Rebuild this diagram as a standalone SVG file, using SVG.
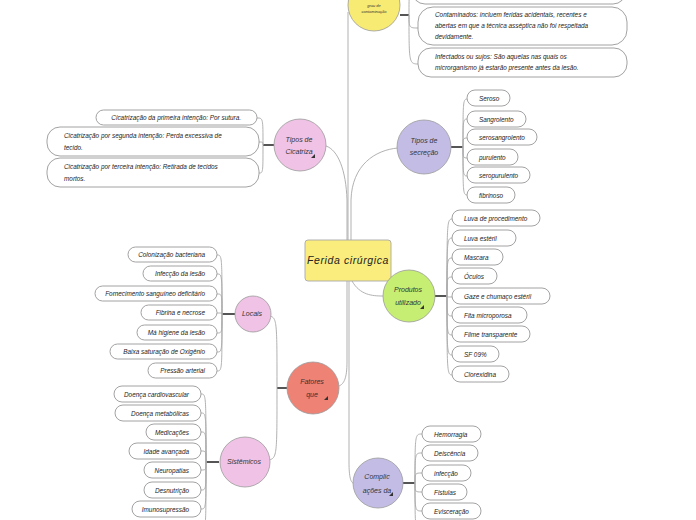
<svg xmlns="http://www.w3.org/2000/svg" width="696" height="520" viewBox="0 0 696 520">
<style>
.bg{fill:#ffffff}
.box{fill:#ffffff;stroke:#8a8a8a;stroke-width:0.8}
.t{font-family:"Liberation Sans",Arial,sans-serif;font-style:italic;font-size:6.4px;fill:#222}
.te{text-anchor:end}
.tm{text-anchor:middle}
.ct{font-family:"Liberation Sans",Arial,sans-serif;font-style:italic;font-size:7px;fill:#333;text-anchor:middle}
.cs{font-family:"Liberation Sans",Arial,sans-serif;font-style:italic;font-size:4px;fill:#333;text-anchor:middle}
.circ{stroke:#9a9a9a;stroke-width:0.8}
.ln{fill:none;stroke:#a8a8a8;stroke-width:0.9}
.th{fill:none;stroke:#555;stroke-width:2}
.ico{fill:#333}
</style>
<rect class="bg" x="0" y="0" width="696" height="520"/>
<g id="connectors">
<path class="ln" d="M348 240 L348 12"/>
<path class="ln" d="M347 240 L347 200 C346 170 338 150 326 146"/>
<path class="ln" d="M351 240 L351 200 C352 165 375 150 398 148"/>
<path class="ln" d="M352 281 C360 295 372 296 383 296"/>
<path class="ln" d="M347 281 L347 362 C347 378 344 384 339 386"/>
<path class="ln" d="M349 281 L349 462 C349 478 351 482 353 483"/>
<path class="th" d="M400 15 L409 15"/>
<path class="ln" d="M409 15 C409 -8 409 -8 413 -8"/>
<path class="ln" d="M409 15 C409 28 409 28 419 28"/>
<path class="ln" d="M409 15 C409 64 409 64 419 64"/>
<path class="th" d="M274 145 L263 145"/>
<path class="ln" d="M263 145 C263 118 263 118 257 118"/>
<path class="ln" d="M263 145 C263 142 263 142 259 142"/>
<path class="ln" d="M263 145 C263 173 263 173 259 173"/>
<path class="th" d="M451 147 L463 147"/>
<path class="ln" d="M463 147 C463 99 463 99 468 99"/>
<path class="ln" d="M463 147 C463 119 463 119 468 119"/>
<path class="ln" d="M463 147 C463 138 463 138 468 138"/>
<path class="ln" d="M463 147 C463 158 463 158 468 158"/>
<path class="ln" d="M463 147 C463 176 463 176 468 176"/>
<path class="ln" d="M463 147 C463 195 463 195 468 195"/>
<path class="th" d="M435 296 L447 296"/>
<path class="ln" d="M447 296 C447 219 447 219 453 219"/>
<path class="ln" d="M447 296 C447 238 447 238 453 238"/>
<path class="ln" d="M447 296 C447 258 447 258 453 258"/>
<path class="ln" d="M447 296 C447 277 447 277 453 277"/>
<path class="ln" d="M447 296 C447 297 447 297 453 297"/>
<path class="ln" d="M447 296 C447 316 447 316 453 316"/>
<path class="ln" d="M447 296 C447 335 447 335 453 335"/>
<path class="ln" d="M447 296 C447 355 447 355 453 355"/>
<path class="ln" d="M447 296 C447 375 447 375 453 375"/>
<path class="th" d="M287 388 L277 388"/>
<path class="ln" d="M277 388 C277 322 277 318 270 316"/>
<path class="ln" d="M277 388 C277 455 277 458 269 460"/>
<path class="th" d="M235 314 L222 314"/>
<path class="ln" d="M222 314 C222 255 222 255 217 255"/>
<path class="ln" d="M222 314 C222 274 222 274 217 274"/>
<path class="ln" d="M222 314 C222 294 222 294 217 294"/>
<path class="ln" d="M222 314 C222 313 222 313 217 313"/>
<path class="ln" d="M222 314 C222 333 222 333 217 333"/>
<path class="ln" d="M222 314 C222 352 222 352 217 352"/>
<path class="ln" d="M222 314 C222 371 222 371 217 371"/>
<path class="th" d="M219 462 L206 462"/>
<path class="ln" d="M206 462 C206 394 206 394 201 394"/>
<path class="ln" d="M206 462 C206 413 206 413 201 413"/>
<path class="ln" d="M206 462 C206 432 206 432 201 432"/>
<path class="ln" d="M206 462 C206 451 206 451 201 451"/>
<path class="ln" d="M206 462 C206 470 206 470 201 470"/>
<path class="ln" d="M206 462 C206 490 206 490 201 490"/>
<path class="ln" d="M206 462 C206 509 206 509 201 509"/>
<path class="ln" d="M206 462 C206 530 206 530 201 530"/>
<path class="th" d="M403 483 L415 483"/>
<path class="ln" d="M415 483 C415 434 415 434 422 434"/>
<path class="ln" d="M415 483 C415 453 415 453 422 453"/>
<path class="ln" d="M415 483 C415 473 415 473 422 473"/>
<path class="ln" d="M415 483 C415 492 415 492 422 492"/>
<path class="ln" d="M415 483 C415 511 415 511 422 511"/>
<path class="ln" d="M415 483 C415 530 415 530 422 530"/>
</g>

<g id="central">
<rect x="305" y="240" width="86" height="41" rx="3" fill="#faed7d" stroke="#a8a8a8" stroke-width="0.9"/>
<text x="348" y="264" font-family="Liberation Sans, Arial, sans-serif" font-style="italic" font-size="10.5" letter-spacing="0.6" fill="#222" text-anchor="middle">Ferida cirúrgica</text>
</g>

<g id="n-contaminacao">
<circle class="circ" cx="374" cy="5" r="26" fill="#f8eb73"/>
<text class="cs" x="374" y="7">grau de</text>
<text class="cs" x="374" y="13">contaminação</text>
</g>
<g id="c-top1"><rect class="box" x="412" y="-25" width="214" height="29" rx="13"/></g>
<g id="c-contaminados">
<rect class="box" x="418" y="7" width="209" height="38" rx="15"/>
<text class="t" x="435" y="17">Contaminados: incluem feridas acidentais, recentes e</text>
<text class="t" x="435" y="28">abertas em que a técnica asséptica não foi respeitada</text>
<text class="t" x="435" y="39">devidamente.</text>
</g>
<g id="c-infectados">
<rect class="box" x="418" y="48" width="209" height="29" rx="13"/>
<text class="t" x="435" y="59">Infectados ou sujos: São aquelas nas quais os</text>
<text class="t" x="435" y="70">microrganismo já estarão presente antes da lesão.</text>
</g>

<g id="n-cicatriza">
<circle class="circ" cx="300" cy="145" r="26" fill="#f0c3e6"/>
<text class="ct" x="299" y="142">Tipos de</text>
<text class="ct" x="299" y="154">Cicatriza</text>
<polygon class="ico" points="311,158 315,154 315,158"/>
</g>
<g id="ci-1">
<rect class="box" x="96" y="110" width="161" height="15" rx="7.5"/>
<text class="t te" x="241" y="120">Cicatrização da primeira intenção: Por sutura.</text>
</g>
<g id="ci-2">
<rect class="box" x="47" y="127" width="212" height="29" rx="13"/>
<text class="t" x="64" y="138">Cicatrização por segunda intenção: Perda excessiva de</text>
<text class="t" x="64" y="150">tecido.</text>
</g>
<g id="ci-3">
<rect class="box" x="47" y="158" width="212" height="29" rx="13"/>
<text class="t" x="64" y="169">Cicatrização por terceira  intenção: Retirada de tecidos</text>
<text class="t" x="64" y="181">mortos.</text>
</g>

<g id="n-secrecao">
<circle class="circ" cx="424" cy="147" r="27" fill="#c3bde6"/>
<text class="ct" x="424" y="143">Tipos de</text>
<text class="ct" x="424" y="155">secreção</text>
</g>
<g id="s-1"><rect class="box" x="467" y="90" width="43" height="16" rx="8"/><text class="t" x="479" y="100.5">Seroso</text></g>
<g id="s-2"><rect class="box" x="467" y="111" width="59" height="16" rx="8"/><text class="t" x="479" y="121.5">Sangrolento</text></g>
<g id="s-3"><rect class="box" x="467" y="129" width="70" height="16" rx="8"/><text class="t" x="479" y="139.5">serosangrolento</text></g>
<g id="s-4"><rect class="box" x="467" y="149" width="51" height="16" rx="8"/><text class="t" x="479" y="159.5">purulento</text></g>
<g id="s-5"><rect class="box" x="467" y="167" width="63" height="16" rx="8"/><text class="t" x="479" y="177.5">seropurulento</text></g>
<g id="s-6"><rect class="box" x="467" y="187" width="48" height="16" rx="8"/><text class="t" x="479" y="197.5">fibrinoso</text></g>

<g id="n-produtos">
<circle class="circ" cx="409" cy="296" r="26" fill="#c6ee72"/>
<text class="ct" x="408" y="292">Produtos</text>
<text class="ct" x="408" y="305">utilizado</text>
<polygon class="ico" points="420,309 424,305 424,309"/>
</g>
<g id="p-1"><rect class="box" x="452" y="210" width="88" height="16" rx="8"/><text class="t" x="464" y="220.5">Luva de procedimento</text></g>
<g id="p-2"><rect class="box" x="452" y="230" width="64" height="16" rx="8"/><text class="t" x="464" y="240.5">Luva estéril</text></g>
<g id="p-3"><rect class="box" x="452" y="249" width="51" height="16" rx="8"/><text class="t" x="464" y="259.5">Mascara</text></g>
<g id="p-4"><rect class="box" x="452" y="268" width="45" height="16" rx="8"/><text class="t" x="464" y="278.5">Óculos</text></g>
<g id="p-5"><rect class="box" x="452" y="288" width="98" height="16" rx="8"/><text class="t" x="464" y="298.5">Gaze e chumaço estéril</text></g>
<g id="p-6"><rect class="box" x="452" y="307" width="75" height="16" rx="8"/><text class="t" x="464" y="317.5">Fita microporosa</text></g>
<g id="p-7"><rect class="box" x="452" y="326" width="78" height="16" rx="8"/><text class="t" x="464" y="336.5">Filme transparente</text></g>
<g id="p-8"><rect class="box" x="452" y="346" width="47" height="16" rx="8"/><text class="t" x="464" y="356.5">SF 09%</text></g>
<g id="p-9"><rect class="box" x="452" y="366" width="57" height="16" rx="8"/><text class="t" x="464" y="376.5">Clorexidina</text></g>

<g id="n-fatores">
<circle class="circ" cx="313" cy="388" r="26" fill="#ee8275"/>
<text class="ct" x="312" y="384">Fatores</text>
<text class="ct" x="312" y="397">que</text>
<polygon class="ico" points="324,400 328,396 328,400"/>
</g>

<g id="n-locais">
<circle class="circ" cx="253" cy="314" r="18" fill="#f0c3e6"/>
<text class="ct" x="252" y="316">Locais</text>
</g>
<g id="l-1"><rect class="box" x="128" y="247" width="89" height="15" rx="7.5"/><text class="t te" x="205" y="257">Colonização bacteriana</text></g>
<g id="l-2"><rect class="box" x="143" y="266" width="74" height="15" rx="7.5"/><text class="t te" x="205" y="276">Infecção da lesão</text></g>
<g id="l-3"><rect class="box" x="95" y="286" width="122" height="15" rx="7.5"/><text class="t te" x="205" y="296">Fornecimento sanguíneo deficitário</text></g>
<g id="l-4"><rect class="box" x="141" y="305" width="76" height="15" rx="7.5"/><text class="t te" x="205" y="315">Fibrina e necrose</text></g>
<g id="l-5"><rect class="box" x="137" y="325" width="80" height="15" rx="7.5"/><text class="t te" x="205" y="335">Má higiene da lesão</text></g>
<g id="l-6"><rect class="box" x="110" y="344" width="107" height="15" rx="7.5"/><text class="t te" x="205" y="354">Baixa saturação de Oxigênio</text></g>
<g id="l-7"><rect class="box" x="148" y="363" width="69" height="15" rx="7.5"/><text class="t te" x="205" y="373">Pressão arterial</text></g>

<g id="n-sistemicos">
<circle class="circ" cx="245" cy="462" r="25" fill="#f0c3e6"/>
<text class="ct" x="244" y="464">Sistêmicos</text>
</g>
<g id="si-1"><rect class="box" x="114" y="386" width="87" height="16" rx="8"/><text class="t te" x="189" y="396.5">Doença cardiovascular</text></g>
<g id="si-2"><rect class="box" x="115" y="405" width="86" height="16" rx="8"/><text class="t te" x="189" y="415.5">Doença metabólicas</text></g>
<g id="si-3"><rect class="box" x="146" y="424" width="55" height="16" rx="8"/><text class="t te" x="189" y="434.5">Medicações</text></g>
<g id="si-4"><rect class="box" x="129" y="443" width="72" height="16" rx="8"/><text class="t te" x="189" y="453.5">Idade avançada</text></g>
<g id="si-5"><rect class="box" x="144" y="462" width="57" height="16" rx="8"/><text class="t te" x="189" y="472.5">Neuropatias</text></g>
<g id="si-6"><rect class="box" x="144" y="482" width="57" height="16" rx="8"/><text class="t te" x="189" y="492.5">Desnutrição</text></g>
<g id="si-7"><rect class="box" x="132" y="501" width="69" height="16" rx="8"/><text class="t te" x="189" y="511.5">Imunosupressão</text></g>

<g id="n-complicacoes">
<circle class="circ" cx="378" cy="483" r="25" fill="#c3bde6"/>
<text class="ct" x="377" y="479">Complic</text>
<text class="ct" x="377" y="493">ações da</text>
<polygon class="ico" points="389,496 393,492 393,496"/>
</g>
<g id="co-1"><rect class="box" x="422" y="426" width="59" height="16" rx="8"/><text class="t" x="434" y="436.5">Hemorragia</text></g>
<g id="co-2"><rect class="box" x="422" y="445" width="56" height="16" rx="8"/><text class="t" x="434" y="455.5">Deiscência</text></g>
<g id="co-3"><rect class="box" x="422" y="465" width="49" height="16" rx="8"/><text class="t" x="434" y="475.5">infecção</text></g>
<g id="co-4"><rect class="box" x="422" y="484" width="45" height="16" rx="8"/><text class="t" x="434" y="494.5">Fistulas</text></g>
<g id="co-5"><rect class="box" x="422" y="503" width="59" height="16" rx="8"/><text class="t" x="434" y="513.5">Evisceração</text></g>
</svg>
